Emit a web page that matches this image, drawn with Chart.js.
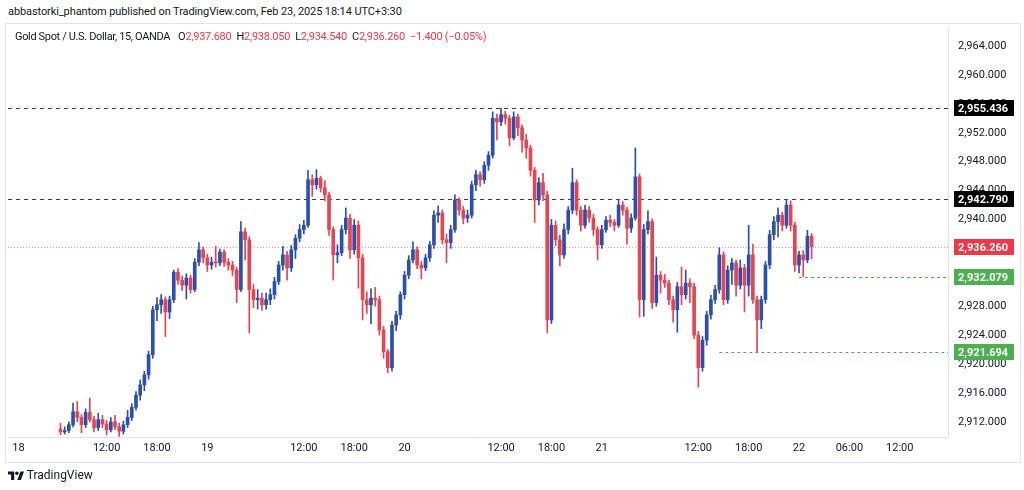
<!DOCTYPE html>
<html lang="en">
<head>
<meta charset="utf-8">
<title>Gold Spot / U.S. Dollar, 15, OANDA</title>
<script src="https://cdn.jsdelivr.net/npm/chart.js"></script>
<style>
  body { margin: 0; background: #fff; font-family: Roboto, "Noto Sans", sans-serif; color: #131722; }
  #wrap { position: relative; width: 1024px; height: 490px; overflow: hidden; }
  #frame { position: absolute; left: 5px; top: 23px; width: 1014px; height: 438px; border: 1px solid #e0e3eb; }
  canvas { position: absolute; left: 0; top: 0; }
  .txt { position: absolute; font-size: 11px; white-space: nowrap; line-height: 14px; }
  .red { color: #f23645; }
  #legend span.g { margin-left: 5px; letter-spacing: -0.25px; }
</style>
</head>
<body>
<div id="wrap">
  <div class="txt" style="left:8px;top:5px;letter-spacing:-0.1px">abbastorki_phantom published on TradingView.com, Feb 23, 2025 18:14 UTC+3:30</div>
  <div id="frame"></div>
  <canvas id="chart" width="1024" height="490"></canvas>
  <div class="txt" id="legend" style="left:15px;top:30px"><span style="letter-spacing:-0.35px">Gold Spot / U.S. Dollar, 15, OANDA</span></div>
  <div class="txt" style="left:8px;top:468px;font-size:12px">
    <svg width="16" height="10" viewBox="0 0 36 22" style="vertical-align:-1px"><path d="M14 22H7V10H0V3h14z M29 22h-8l7-19h8z" fill="#131722"/><circle cx="20" cy="7" r="4" fill="#131722"/></svg>
    TradingView
  </div>
</div>

<script>
// time axis (30-minute slots)
const slotCount = 224;
const tickSlots = [2, 23, 35, 47, 70, 82, 94, 117, 129, 141, 164, 176, 188, 200, 212];
const tickTexts = ['18', '12:00', '18:00', '19', '12:00', '18:00', '20', '12:00', '18:00', '21', '12:00', '18:00', '22', '06:00', '12:00'];
const firstCandleSlot = 12;

// price axis
const priceTicks = [2912, 2916, 2920, 2924, 2928, 2932, 2936, 2940, 2944, 2948, 2952, 2956, 2960, 2964];

// candles
const opens = [
  2911.0, 2910.6, 2910.8, 2911.6, 2913.4, 2912.6, 2911.6, 2913.3, 2912.3, 2911.2,
  2912.3, 2911.7, 2910.9, 2912.0, 2911.3, 2910.7, 2911.6, 2912.6, 2914.0, 2915.7,
  2917.1, 2918.5, 2921.3, 2927.5, 2928.2, 2928.9, 2927.2, 2928.9, 2932.7, 2931.6,
  2930.9, 2931.9, 2930.3, 2934.1, 2935.8, 2934.7, 2933.7, 2934.1, 2934.0, 2935.5,
  2934.1, 2933.7, 2933.0, 2930.3, 2938.3, 2937.2, 2930.3, 2928.9, 2929.1, 2928.2,
  2928.9, 2929.6, 2931.4, 2933.7, 2935.1, 2933.3, 2935.8, 2937.4, 2938.6, 2939.2,
  2945.5, 2944.8, 2945.7, 2944.4, 2943.4, 2938.6, 2935.1, 2935.4, 2938.6, 2940.2,
  2935.8, 2939.2, 2934.7, 2928.9, 2928.2, 2929.1, 2928.9, 2924.7, 2921.7, 2919.5,
  2925.4, 2926.8, 2929.6, 2932.3, 2934.4, 2935.8, 2933.7, 2933.3, 2934.7, 2936.5,
  2940.6, 2940.9, 2937.2, 2936.8, 2938.6, 2942.7, 2941.3, 2940.2, 2940.6, 2944.8,
  2946.2, 2945.5, 2947.5, 2948.9, 2954.0, 2953.5, 2954.5, 2954.0, 2951.3, 2954.2,
  2952.7, 2951.0, 2949.9, 2946.8, 2942.7, 2945.1, 2943.4, 2926.1, 2939.2, 2937.2,
  2935.1, 2938.6, 2941.3, 2945.1, 2941.3, 2939.2, 2941.3, 2940.2, 2938.6, 2936.5,
  2938.6, 2939.9, 2939.6, 2939.2, 2942.0, 2941.3, 2938.8, 2940.2, 2945.9, 2928.9,
  2938.6, 2939.7, 2928.5, 2932.3, 2931.6, 2931.2, 2928.9, 2927.5, 2930.7, 2929.6,
  2931.2, 2930.7, 2924.0, 2919.5, 2923.3, 2926.8, 2928.9, 2930.3, 2935.1, 2928.9,
  2933.0, 2934.0, 2930.9, 2933.3, 2930.9, 2935.1, 2928.9, 2926.1, 2928.9, 2933.7,
  2937.9, 2939.7, 2940.6, 2939.2, 2942.0, 2939.2, 2933.7, 2935.1, 2934.4, 2937.68
];
const highs = [
  2911.8, 2911.3, 2912.0, 2914.6, 2914.8, 2913.0, 2913.8, 2915.3, 2912.8, 2913.2,
  2912.9, 2912.2, 2912.6, 2912.9, 2911.8, 2912.1, 2913.6, 2914.5, 2916.2, 2917.8,
  2919.0, 2921.8, 2928.0, 2929.2, 2929.6, 2929.3, 2929.4, 2933.0, 2933.2, 2932.2,
  2932.5, 2932.3, 2934.6, 2936.8, 2936.2, 2935.2, 2934.8, 2936.3, 2935.9, 2935.8,
  2934.6, 2934.2, 2933.4, 2939.7, 2938.8, 2937.6, 2931.0, 2930.3, 2929.8, 2929.8,
  2930.4, 2932.0, 2934.2, 2936.3, 2935.6, 2936.4, 2937.9, 2939.3, 2939.9, 2946.8,
  2946.2, 2946.9, 2946.0, 2945.4, 2943.8, 2939.0, 2936.5, 2939.2, 2941.6, 2940.7,
  2940.0, 2939.8, 2935.2, 2930.0, 2930.4, 2930.6, 2929.4, 2925.2, 2922.0, 2925.9,
  2927.3, 2930.0, 2932.8, 2935.0, 2936.9, 2936.2, 2934.2, 2935.2, 2937.0, 2941.2,
  2941.9, 2941.3, 2938.0, 2939.2, 2943.4, 2943.0, 2941.8, 2941.3, 2945.3, 2946.8,
  2946.6, 2948.0, 2949.4, 2954.9, 2954.6, 2955.4, 2955.0, 2954.4, 2954.9, 2954.6,
  2953.1, 2951.8, 2950.3, 2947.2, 2945.8, 2946.4, 2943.9, 2940.0, 2939.8, 2937.8,
  2939.4, 2941.8, 2947.1, 2945.5, 2941.8, 2942.0, 2941.8, 2940.7, 2939.0, 2939.2,
  2940.4, 2940.6, 2940.0, 2942.8, 2942.5, 2941.7, 2940.8, 2949.9, 2946.3, 2939.3,
  2941.2, 2940.1, 2934.8, 2932.8, 2932.4, 2931.6, 2929.4, 2931.3, 2933.4, 2933.0,
  2931.8, 2931.2, 2924.5, 2923.8, 2927.3, 2929.5, 2930.9, 2936.1, 2935.5, 2933.6,
  2934.6, 2934.4, 2934.4, 2933.8, 2939.2, 2936.6, 2929.4, 2929.4, 2934.2, 2938.5,
  2940.4, 2941.6, 2941.0, 2942.8, 2942.6, 2939.6, 2935.6, 2935.7, 2938.5, 2938.05
];
const lows = [
  2910.2, 2910.3, 2910.5, 2911.3, 2912.0, 2910.5, 2911.2, 2912.0, 2910.6, 2910.8,
  2911.2, 2910.2, 2910.6, 2910.9, 2910.0, 2910.3, 2911.2, 2912.2, 2913.6, 2915.0,
  2916.3, 2917.9, 2920.8, 2926.0, 2927.0, 2923.8, 2926.3, 2928.5, 2931.0, 2930.2,
  2929.0, 2929.8, 2930.0, 2933.6, 2934.0, 2932.8, 2933.1, 2933.4, 2933.6, 2933.5,
  2933.0, 2932.2, 2928.5, 2930.0, 2934.4, 2924.3, 2927.8, 2927.6, 2927.4, 2927.6,
  2928.2, 2929.0, 2931.0, 2933.0, 2931.6, 2932.8, 2934.6, 2936.9, 2938.0, 2938.9,
  2943.2, 2944.2, 2943.8, 2942.6, 2937.8, 2931.6, 2934.0, 2935.0, 2938.0, 2934.6,
  2935.2, 2930.5, 2926.1, 2927.0, 2925.6, 2928.0, 2924.0, 2920.8, 2918.8, 2919.0,
  2924.6, 2926.2, 2929.0, 2931.8, 2934.0, 2933.2, 2931.8, 2932.9, 2934.2, 2936.0,
  2939.6, 2936.6, 2934.0, 2936.0, 2938.2, 2940.6, 2939.4, 2939.6, 2940.2, 2944.0,
  2944.6, 2945.0, 2946.8, 2948.5, 2951.0, 2953.0, 2953.2, 2950.2, 2951.0, 2951.6,
  2949.3, 2948.5, 2946.0, 2939.6, 2942.0, 2942.6, 2924.3, 2925.6, 2936.4, 2933.6,
  2934.6, 2938.0, 2940.8, 2940.6, 2938.4, 2938.8, 2939.6, 2937.8, 2934.4, 2936.0,
  2938.2, 2939.0, 2938.4, 2938.9, 2940.6, 2936.6, 2938.2, 2939.9, 2926.5, 2926.6,
  2938.0, 2927.7, 2928.0, 2929.8, 2930.6, 2928.2, 2925.8, 2924.4, 2928.2, 2929.0,
  2928.5, 2923.5, 2916.8, 2919.0, 2922.6, 2926.2, 2928.4, 2929.8, 2928.2, 2928.4,
  2931.0, 2929.4, 2930.4, 2927.2, 2929.4, 2928.4, 2921.7, 2924.9, 2928.4, 2933.2,
  2937.2, 2937.6, 2938.4, 2938.8, 2938.4, 2932.8, 2932.6, 2932.1, 2934.0, 2934.54
];
const closes = [
  2910.6, 2910.8, 2911.6, 2913.4, 2912.6, 2911.6, 2913.3, 2912.3, 2911.2, 2912.3,
  2911.7, 2910.9, 2912.0, 2911.3, 2910.7, 2911.6, 2912.6, 2914.0, 2915.7, 2917.1,
  2918.5, 2921.3, 2927.5, 2928.2, 2928.9, 2927.2, 2928.9, 2932.7, 2931.6, 2930.9,
  2931.9, 2930.3, 2934.1, 2935.8, 2934.7, 2933.7, 2934.1, 2934.0, 2935.5, 2934.1,
  2933.7, 2933.0, 2930.3, 2938.3, 2937.2, 2930.3, 2928.9, 2929.1, 2928.2, 2928.9,
  2929.6, 2931.4, 2933.7, 2935.1, 2933.3, 2935.8, 2937.4, 2938.6, 2939.2, 2945.5,
  2944.8, 2945.7, 2944.4, 2943.4, 2938.6, 2935.1, 2935.4, 2938.6, 2940.2, 2935.8,
  2939.2, 2934.7, 2928.9, 2928.2, 2929.1, 2928.9, 2924.7, 2921.7, 2919.5, 2925.4,
  2926.8, 2929.6, 2932.3, 2934.4, 2935.8, 2933.7, 2933.3, 2934.7, 2936.5, 2940.6,
  2940.9, 2937.2, 2936.8, 2938.6, 2942.7, 2941.3, 2940.2, 2940.6, 2944.8, 2946.2,
  2945.5, 2947.5, 2948.9, 2954.0, 2953.5, 2954.5, 2954.0, 2951.3, 2954.2, 2952.7,
  2951.0, 2949.9, 2946.8, 2942.7, 2945.1, 2943.4, 2926.1, 2939.2, 2937.2, 2935.1,
  2938.6, 2941.3, 2945.1, 2941.3, 2939.2, 2941.3, 2940.2, 2938.6, 2936.5, 2938.6,
  2939.9, 2939.6, 2939.2, 2942.0, 2941.3, 2938.8, 2940.2, 2945.9, 2928.9, 2938.6,
  2939.7, 2928.5, 2932.3, 2931.6, 2931.2, 2928.9, 2927.5, 2930.7, 2929.6, 2931.2,
  2930.7, 2924.0, 2919.5, 2923.3, 2926.8, 2928.9, 2930.3, 2935.1, 2928.9, 2933.0,
  2934.0, 2930.9, 2933.3, 2930.9, 2935.1, 2928.9, 2926.1, 2928.9, 2933.7, 2937.9,
  2939.7, 2940.6, 2939.2, 2942.0, 2939.2, 2933.7, 2935.1, 2934.4, 2937.66, 2936.26
];

// horizontal levels drawn on the chart
const levelValues = [2955.436, 2942.790, 2936.260, 2932.079, 2921.694];

const UP = '#2b4fae';
const DOWN = '#e8434f';
const FONT = 'Roboto, "Noto Sans", sans-serif';
const fmt = v => v.toLocaleString('en-US', { minimumFractionDigits: 3, maximumFractionDigits: 3 });

const slotLabels = Array.from({ length: slotCount }, (_, i) => {
  const k = tickSlots.indexOf(i);
  return k >= 0 ? tickTexts[k] : '';
});

const bodies = new Array(slotCount).fill(null);
const wicks = new Array(slotCount).fill(null);
const colors = new Array(slotCount).fill(UP);
opens.forEach((o, j) => {
  const i = firstCandleSlot + j;
  bodies[i] = [o, closes[j]];
  wicks[i] = [lows[j], highs[j]];
  colors[i] = closes[j] >= o ? UP : DOWN;
});

// legend line from the last candle
const n = opens.length - 1;
const chg = closes[n] - closes[n - 1];
const pct = Math.abs(chg) / closes[n - 1] * 100;
document.getElementById('legend').insertAdjacentHTML('beforeend',
  '<span class="g" style="margin-left:8px">O<span class="red">' + fmt(opens[n]) + '</span></span>' +
  '<span class="g">H<span class="red">' + fmt(highs[n]) + '</span></span>' +
  '<span class="g">L<span class="red">' + fmt(lows[n]) + '</span></span>' +
  '<span class="g">C<span class="red">' + fmt(closes[n]) + '</span></span>' +
  '<span class="g red">\u2212' + fmt(Math.abs(chg)) + ' (\u2212' + pct.toFixed(2) + '%)</span>');

// line + axis tag look for each level
const levelStyle = [
  { line: '#3c3f48', dash: [4, 4], tag: '#000000', fromSlot: null },
  { line: '#3c3f48', dash: [4, 4], tag: '#000000', fromSlot: null },
  { line: 'rgba(242,54,69,0.55)', dash: [1, 2], tag: '#f23645', fromSlot: null },
  { line: '#4caf50', dash: [3, 3], tag: '#4caf50', fromSlot: 188 },
  { line: '#4caf50', dash: [3, 3], tag: '#4caf50', fromSlot: 169 }
];

const levelPlugin = {
  id: 'levels',
  beforeDatasetsDraw(chart) {
    const { ctx, chartArea, scales } = chart;
    ctx.save();
    ctx.lineWidth = 1;
    levelValues.forEach((v, k) => {
      const st = levelStyle[k];
      const y = Math.round(scales.y.getPixelForValue(v)) + 0.5;
      const x0 = st.fromSlot == null ? chartArea.left : scales.x.getPixelForValue(st.fromSlot);
      ctx.strokeStyle = st.line;
      ctx.setLineDash(st.dash);
      ctx.beginPath();
      ctx.moveTo(x0, y);
      ctx.lineTo(chartArea.right, y);
      ctx.stroke();
    });
    ctx.restore();
  },
  afterDraw(chart) {
    const { ctx, chartArea, scales } = chart;
    ctx.save();
    ctx.font = 'bold 11px ' + FONT;
    ctx.textBaseline = 'middle';
    levelValues.forEach((v, k) => {
      const y = Math.round(scales.y.getPixelForValue(v));
      ctx.fillStyle = levelStyle[k].tag;
      ctx.fillRect(chartArea.right + 6, y - 8, 60, 16);
      ctx.fillStyle = '#ffffff';
      ctx.fillText(fmt(v), chartArea.right + 10, y + 1);
    });
    ctx.restore();
  }
};

const ctx = document.getElementById('chart').getContext('2d');
new Chart(ctx, {
  type: 'bar',
  data: {
    labels: slotLabels,
    datasets: [
      { data: bodies, backgroundColor: colors, barThickness: 3, grouped: false, minBarLength: 1 },
      { data: wicks, backgroundColor: colors, barThickness: 1, grouped: false }
    ]
  },
  options: {
    responsive: false,
    animation: false,
    layout: { padding: { left: 8, top: 28, right: 4, bottom: 29 } },
    plugins: { legend: { display: false }, tooltip: { enabled: false } },
    scales: {
      x: {
        grid: { display: false, drawTicks: false },
        border: { color: '#e0e3eb' },
        ticks: {
          autoSkip: false, maxRotation: 0, padding: 5, color: '#131722',
          font: { size: 11, family: FONT },
          callback: (v, i) => slotLabels[i]
        },
        afterFit: s => { s.height = 24; }
      },
      y: {
        position: 'right',
        min: 2909.9,
        max: 2966.5,
        grid: { display: false, drawTicks: false },
        border: { color: '#e0e3eb' },
        afterBuildTicks: s => { s.ticks = priceTicks.map(v => ({ value: v })); },
        ticks: {
          padding: 10, color: '#131722',
          font: { size: 11, family: FONT },
          callback: v => fmt(v)
        },
        afterFit: s => { s.width = 72; }
      }
    }
  },
  plugins: [levelPlugin]
});
</script>
</body>
</html>
